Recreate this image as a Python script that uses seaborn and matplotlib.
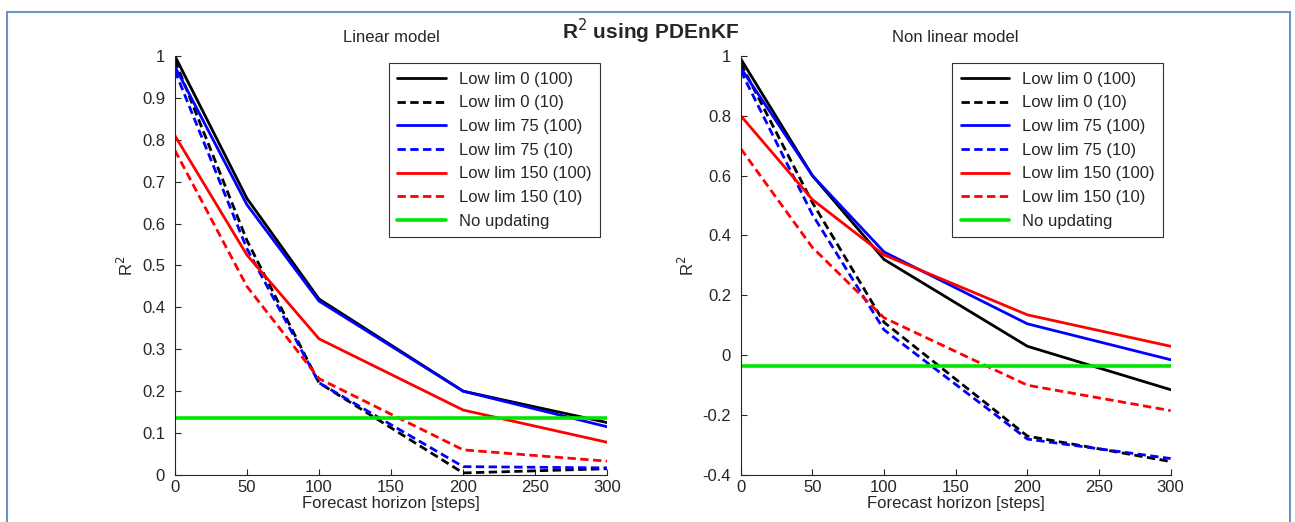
import pandas as pd
import matplotlib.pyplot as plt
import matplotlib.patches as mpatches
import seaborn as sns

# Forecast horizons (steps)
horizon = [0, 50, 100, 200, 300]

labels = ["Low lim 0 (100)", "Low lim 0 (10)", "Low lim 75 (100)", "Low lim 75 (10)",
          "Low lim 150 (100)", "Low lim 150 (10)", "No updating"]

# Linear model R^2 values
lin_0_100 = [1.00, 0.66, 0.42, 0.20, 0.125]
lin_0_10 = [0.99, 0.56, 0.22, 0.005, 0.015]
lin_75_100 = [0.975, 0.645, 0.415, 0.20, 0.115]
lin_75_10 = [0.965, 0.54, 0.22, 0.02, 0.017]
lin_150_100 = [0.81, 0.525, 0.325, 0.155, 0.078]
lin_150_10 = [0.775, 0.45, 0.23, 0.06, 0.033]
lin_noupd = [0.135, 0.135, 0.135, 0.135, 0.135]

# Non linear model R^2 values
nl_0_100 = [0.99, 0.60, 0.32, 0.03, -0.115]
nl_0_10 = [0.975, 0.51, 0.11, -0.27, -0.355]
nl_75_100 = [0.96, 0.60, 0.345, 0.105, -0.015]
nl_75_10 = [0.95, 0.47, 0.085, -0.28, -0.345]
nl_150_100 = [0.80, 0.52, 0.335, 0.135, 0.03]
nl_150_10 = [0.69, 0.36, 0.125, -0.10, -0.185]
nl_noupd = [-0.035, -0.035, -0.035, -0.035, -0.035]

lin_series = [lin_0_100, lin_0_10, lin_75_100, lin_75_10, lin_150_100, lin_150_10, lin_noupd]
nl_series = [nl_0_100, nl_0_10, nl_75_100, nl_75_10, nl_150_100, nl_150_10, nl_noupd]

colors = ["black", "black", "#0000ff", "#0000ff", "#ff0000", "#ff0000", "#00e600"]
styles = ["-", (0, (3, 1.6)), "-", (0, (3, 1.6)), "-", (0, (3, 1.6)), "-"]
widths = [2.0, 2.0, 2.0, 2.0, 2.0, 2.0, 2.6]

sns.set_style("ticks")
plt.rcParams["font.family"] = ["Liberation Sans", "DejaVu Sans"]
plt.rcParams["xtick.direction"] = "in"
plt.rcParams["ytick.direction"] = "in"
plt.rcParams["axes.unicode_minus"] = False

fig = plt.figure(figsize=(12.95, 5.22), dpi=100)
ax1 = fig.add_axes([0.135, 0.09, 0.334, 0.803])
ax2 = fig.add_axes([0.572, 0.09, 0.332, 0.803])

# blue frame around the figure
frame = mpatches.Rectangle((0.0055, -0.05), 0.9905, 1.027, transform=fig.transFigure,
                           fill=False, edgecolor="#6d94c6", linewidth=1.5, clip_on=False)
fig.patches.append(frame)


def draw(ax, series, title, yticks):
    for vals, lab, c, ls, lw in zip(series, labels, colors, styles, widths):
        df = pd.DataFrame({"horizon": horizon, "r2": vals})
        sns.lineplot(data=df, x="horizon", y="r2", ax=ax, color=c, linestyle=ls,
                     linewidth=lw, label=lab)
    ax.set_xlim(0, 300)
    ax.set_ylim(yticks[0], yticks[-1])
    ax.set_xticks([0, 50, 100, 150, 200, 250, 300])
    ax.set_yticks(yticks)
    ax.set_yticklabels([("%g" % t) for t in yticks])
    ax.tick_params(labelsize=12, length=4, width=0.8)
    ax.tick_params(axis="y", pad=7)
    ax.set_xlabel("Forecast horizon [steps]", fontsize=12, labelpad=1)
    ax.set_ylabel("R$^2$", fontsize=12)
    ax.set_title(title, fontsize=12, pad=10)
    sns.despine(ax=ax)
    leg = ax.legend(loc="upper right", fontsize=12, handlelength=2.9, handletextpad=0.8,
                    frameon=True, fancybox=False, edgecolor="#333333", framealpha=1,
                    borderaxespad=0.45, labelspacing=0.52, borderpad=0.5)
    leg.get_frame().set_linewidth(0.8)


draw(ax1, lin_series, "Linear model", [round(0.1 * i, 1) for i in range(11)])
draw(ax2, nl_series, "Non linear model", [-0.4, -0.2, 0, 0.2, 0.4, 0.6, 0.8, 1])

fig.text(0.502, 0.94, "R$^2$ using PDEnKF", ha="center", va="center",
         fontsize=15, fontweight="bold")

fig.savefig("out.png", dpi=100)
